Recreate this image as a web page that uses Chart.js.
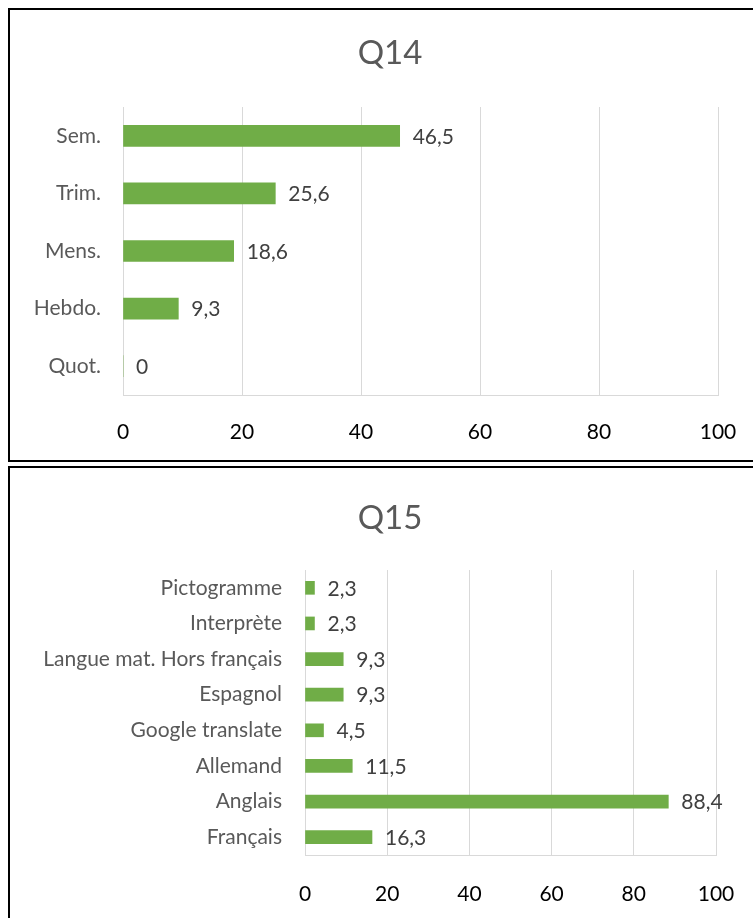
<!DOCTYPE html>
<html>
<head>
<meta charset="utf-8">
<script src="https://cdn.jsdelivr.net/npm/chart.js@4.4.1/dist/chart.umd.min.js"></script>
<style>
  html, body { margin: 0; padding: 0; background: #fff; overflow: hidden; width: 753px; height: 918px; }
  .box { position: absolute; left: 8px; border: 2px solid #000; background: #fff; }
  #box1 { top: 8px; width: 770px; height: 450px; }
  #box2 { top: 466px; width: 770px; height: 470px; }
  canvas { position: absolute; left: 0; top: 0; }
</style>
</head>
<body>
<div class="box" id="box1"><canvas id="q14" width="760" height="448"></canvas></div>
<div class="box" id="box2"><canvas id="q15" width="760" height="450"></canvas></div>
<script>
// Q14 data
const q14Labels = ['Sem.', 'Trim.', 'Mens.', 'Hebdo.', 'Quot.'];
const q14Values = [46.5, 25.6, 18.6, 9.3, 0];

// Q15 data
const q15Labels = ['Pictogramme', 'Interprète', 'Langue mat. Hors français', 'Espagnol',
  'Google translate', 'Allemand', 'Anglais', 'Français'];
const q15Values = [2.3, 2.3, 9.3, 9.3, 4.5, 11.5, 88.4, 16.3];

const xTicks = [0, 20, 40, 60, 80, 100];

const FONT = 'Lato, "Open Sans", sans-serif';
const GREEN = '#70AD47';
const GRID = '#d9d9d9';

// draws "46,5" style labels just past the end of each bar
const valueLabels = {
  id: 'valueLabels',
  afterDatasetsDraw(chart) {
    const ctx = chart.ctx;
    const ds = chart.data.datasets[0];
    ctx.save();
    ctx.font = '21px ' + FONT;
    ctx.fillStyle = '#404040';
    ctx.textAlign = 'left';
    ctx.textBaseline = 'middle';
    chart.getDatasetMeta(0).data.forEach((bar, i) => {
      const txt = String(ds.data[i]).replace('.', ',');
      ctx.fillText(txt, bar.x + 13, bar.y + 1);
    });
    ctx.restore();
  }
};

// title centred on the whole box, not on the padded layout area
const boxTitle = {
  id: 'boxTitle',
  afterDraw(chart, args, o) {
    const ctx = chart.ctx;
    ctx.save();
    ctx.font = '33px ' + FONT;
    ctx.fillStyle = '#595959';
    ctx.textAlign = 'center';
    ctx.textBaseline = 'middle';
    ctx.fillText(o.text, chart.width / 2, o.y);
    ctx.restore();
  }
};

function makeChart(id, title, labels, values, opt) {
  return new Chart(document.getElementById(id), {
    type: 'bar',
    data: {
      labels: labels,
      datasets: [{ data: values, backgroundColor: GREEN, barThickness: opt.bar }]
    },
    options: {
      indexAxis: 'y',
      responsive: false,
      animation: false,
      layout: { padding: { left: 0, right: opt.right, top: opt.top, bottom: 0 } },
      plugins: {
        legend: { display: false },
        tooltip: { enabled: false },
        title: { display: false },
        boxTitle: { text: title, y: opt.titleY }
      },
      scales: {
        x: {
          min: 0,
          max: 100,
          afterBuildTicks: axis => { axis.ticks = xTicks.map(v => ({ value: v })); },
          afterFit: axis => { axis.height = opt.xHeight; },
          grid: { color: GRID, drawTicks: false },
          border: { display: true, color: GRID },
          ticks: { color: '#000', padding: opt.xPad, font: { family: FONT, size: 21 }, maxRotation: 0 }
        },
        y: {
          afterFit: axis => { axis.width = opt.yWidth; },
          grid: { display: false, drawTicks: false },
          border: { display: true, color: GRID },
          ticks: { color: '#595959', padding: opt.yPad, font: { family: FONT, size: 21 } }
        }
      }
    },
    plugins: [valueLabels, boxTitle]
  });
}

makeChart('q14', 'Q14', q14Labels, q14Values,
  { bar: 21, right: 52, top: 97, titleY: 43, xPad: 25, xHeight: 63, yWidth: 113, yPad: 22 });
makeChart('q15', 'Q15', q15Labels, q15Values,
  { bar: 13, right: 54, top: 102, titleY: 50, xPad: 27, xHeight: 63, yWidth: 295, yPad: 23 });
</script>
</body>
</html>
